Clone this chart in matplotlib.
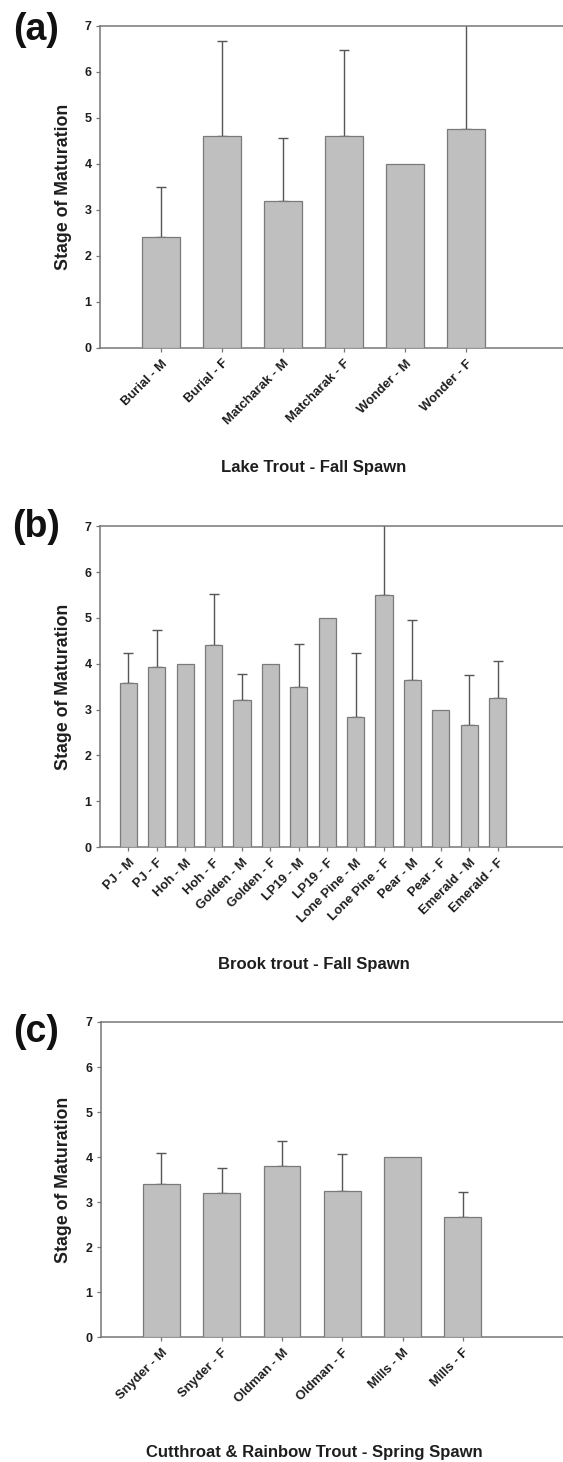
import matplotlib
matplotlib.use("Agg")
import matplotlib.pyplot as plt
import numpy as np

plt.rcParams['font.family'] = ['Liberation Sans', 'DejaVu Sans']
plt.rcParams['font.weight'] = 'bold'

# ---------------- data ----------------
lake_labels = ["Burial - M", "Burial - F", "Matcharak - M", "Matcharak - F", "Wonder - M", "Wonder - F"]
lake_means = [2.4, 4.6, 3.2, 4.6, 4.0, 4.75]
lake_err = [1.1, 2.08, 1.36, 1.88, 0.0, 2.6]

brook_labels = ["PJ - M", "PJ - F", "Hoh - M", "Hoh - F", "Golden - M", "Golden - F", "LP19 - M",
                "LP19 - F", "Lone Pine - M", "Lone Pine - F", "Pear - M", "Pear - F", "Emerald - M", "Emerald - F"]
brook_means = [3.57, 3.92, 4.0, 4.4, 3.2, 4.0, 3.5, 5.0, 2.83, 5.5, 3.64, 3.0, 2.67, 3.25]
brook_err = [0.67, 0.82, 0.0, 1.12, 0.57, 0.0, 0.93, 0.0, 1.41, 1.9, 1.32, 0.0, 1.09, 0.8]

cut_labels = ["Snyder - M", "Snyder - F", "Oldman - M", "Oldman - F", "Mills - M", "Mills - F"]
cut_means = [3.4, 3.2, 3.8, 3.25, 4.0, 2.67]
cut_err = [0.69, 0.56, 0.56, 0.81, 0.0, 0.55]

panel_letters = ["(a)", "(b)", "(c)"]
xtitles = ["Lake Trout - Fall Spawn", "Brook trout - Fall Spawn", "Cutthroat & Rainbow Trout - Spring Spawn"]
ylabel = "Stage of Maturation"
yticks = [0, 1, 2, 3, 4, 5, 6, 7]

W, H = 563, 1462
fig = plt.figure(figsize=(W / 100, H / 100), dpi=100)

def fx(px):
    return px / W

def fy(py):
    return 1 - py / H

BAR_FACE = "#bfbfbf"
BAR_EDGE = "#7a7a7a"
AX_COL = "#777777"
ERR_COL = "#555555"
TXT = "#1e1e1e"

layouts = [
    dict(top=26, bot=347.7, xr=-1 + 463 / 61.0, letter_y=30, title_y=467, yl_y=187),
    dict(top=526.3, bot=847.0, xr=-1 + 463 / 28.4, letter_y=527, title_y=965, yl_y=687),
    dict(top=1022, bot=1337.3, xr=-1 + 462 / 60.3, letter_y=1032, title_y=1452, yl_y=1180),
]
datasets = [
    (lake_labels, lake_means, lake_err),
    (brook_labels, brook_means, brook_err),
    (cut_labels, cut_means, cut_err),
]

for i, (lay, (labs, means, errs)) in enumerate(zip(layouts, datasets)):
    left = 100 if i < 2 else 101
    ax = fig.add_axes([fx(left), fy(lay['bot']), fx(W - left), (lay['bot'] - lay['top']) / H])
    x = np.arange(len(labs))
    ax.bar(x, means, width=0.61, color=BAR_FACE, edgecolor=BAR_EDGE, linewidth=0.9, zorder=3)
    errs = np.array(errs)
    m = errs > 0
    xe = x[m]
    me = np.array(means)[m]
    ee = errs[m]
    ax.errorbar(xe, me, yerr=[np.zeros_like(ee), ee], fmt='none', ecolor=ERR_COL,
                elinewidth=1.0, capsize=3.5, capthick=1.0, zorder=2)
    ax.set_xlim(-1, lay['xr'])
    ax.set_ylim(0, 7)
    ax.set_yticks(yticks)
    ax.set_yticklabels([str(t) for t in yticks], fontsize=9, fontweight='bold', color=TXT)
    ax.set_xticks(x)
    ax.set_xticklabels(labs, rotation=45, ha='right', rotation_mode='anchor',
                       fontsize=9.4, fontweight='bold', color=TXT)
    ax.spines['right'].set_visible(False)
    for s in ['left', 'top', 'bottom']:
        ax.spines[s].set_color(AX_COL)
        ax.spines[s].set_linewidth(1.1)
    ax.tick_params(axis='both', direction='out', length=3, width=0.9, color=AX_COL, pad=3)
    ax.tick_params(axis='x', pad=4)
    fig.text(fx(36), fy(lay['letter_y']), panel_letters[i], fontsize=27, fontweight='bold',
             ha='center', va='center', color="#111111")
    fig.text(fx(63), fy(lay['yl_y']), ylabel, rotation=90, fontsize=12.8, fontweight='bold',
             ha='center', va='center', color=TXT)
    fig.text(fx(314), fy(lay['title_y']), xtitles[i], fontsize=12, fontweight='bold',
             ha='center', va='center', color=TXT)

fig.savefig("out.png", dpi=100)
